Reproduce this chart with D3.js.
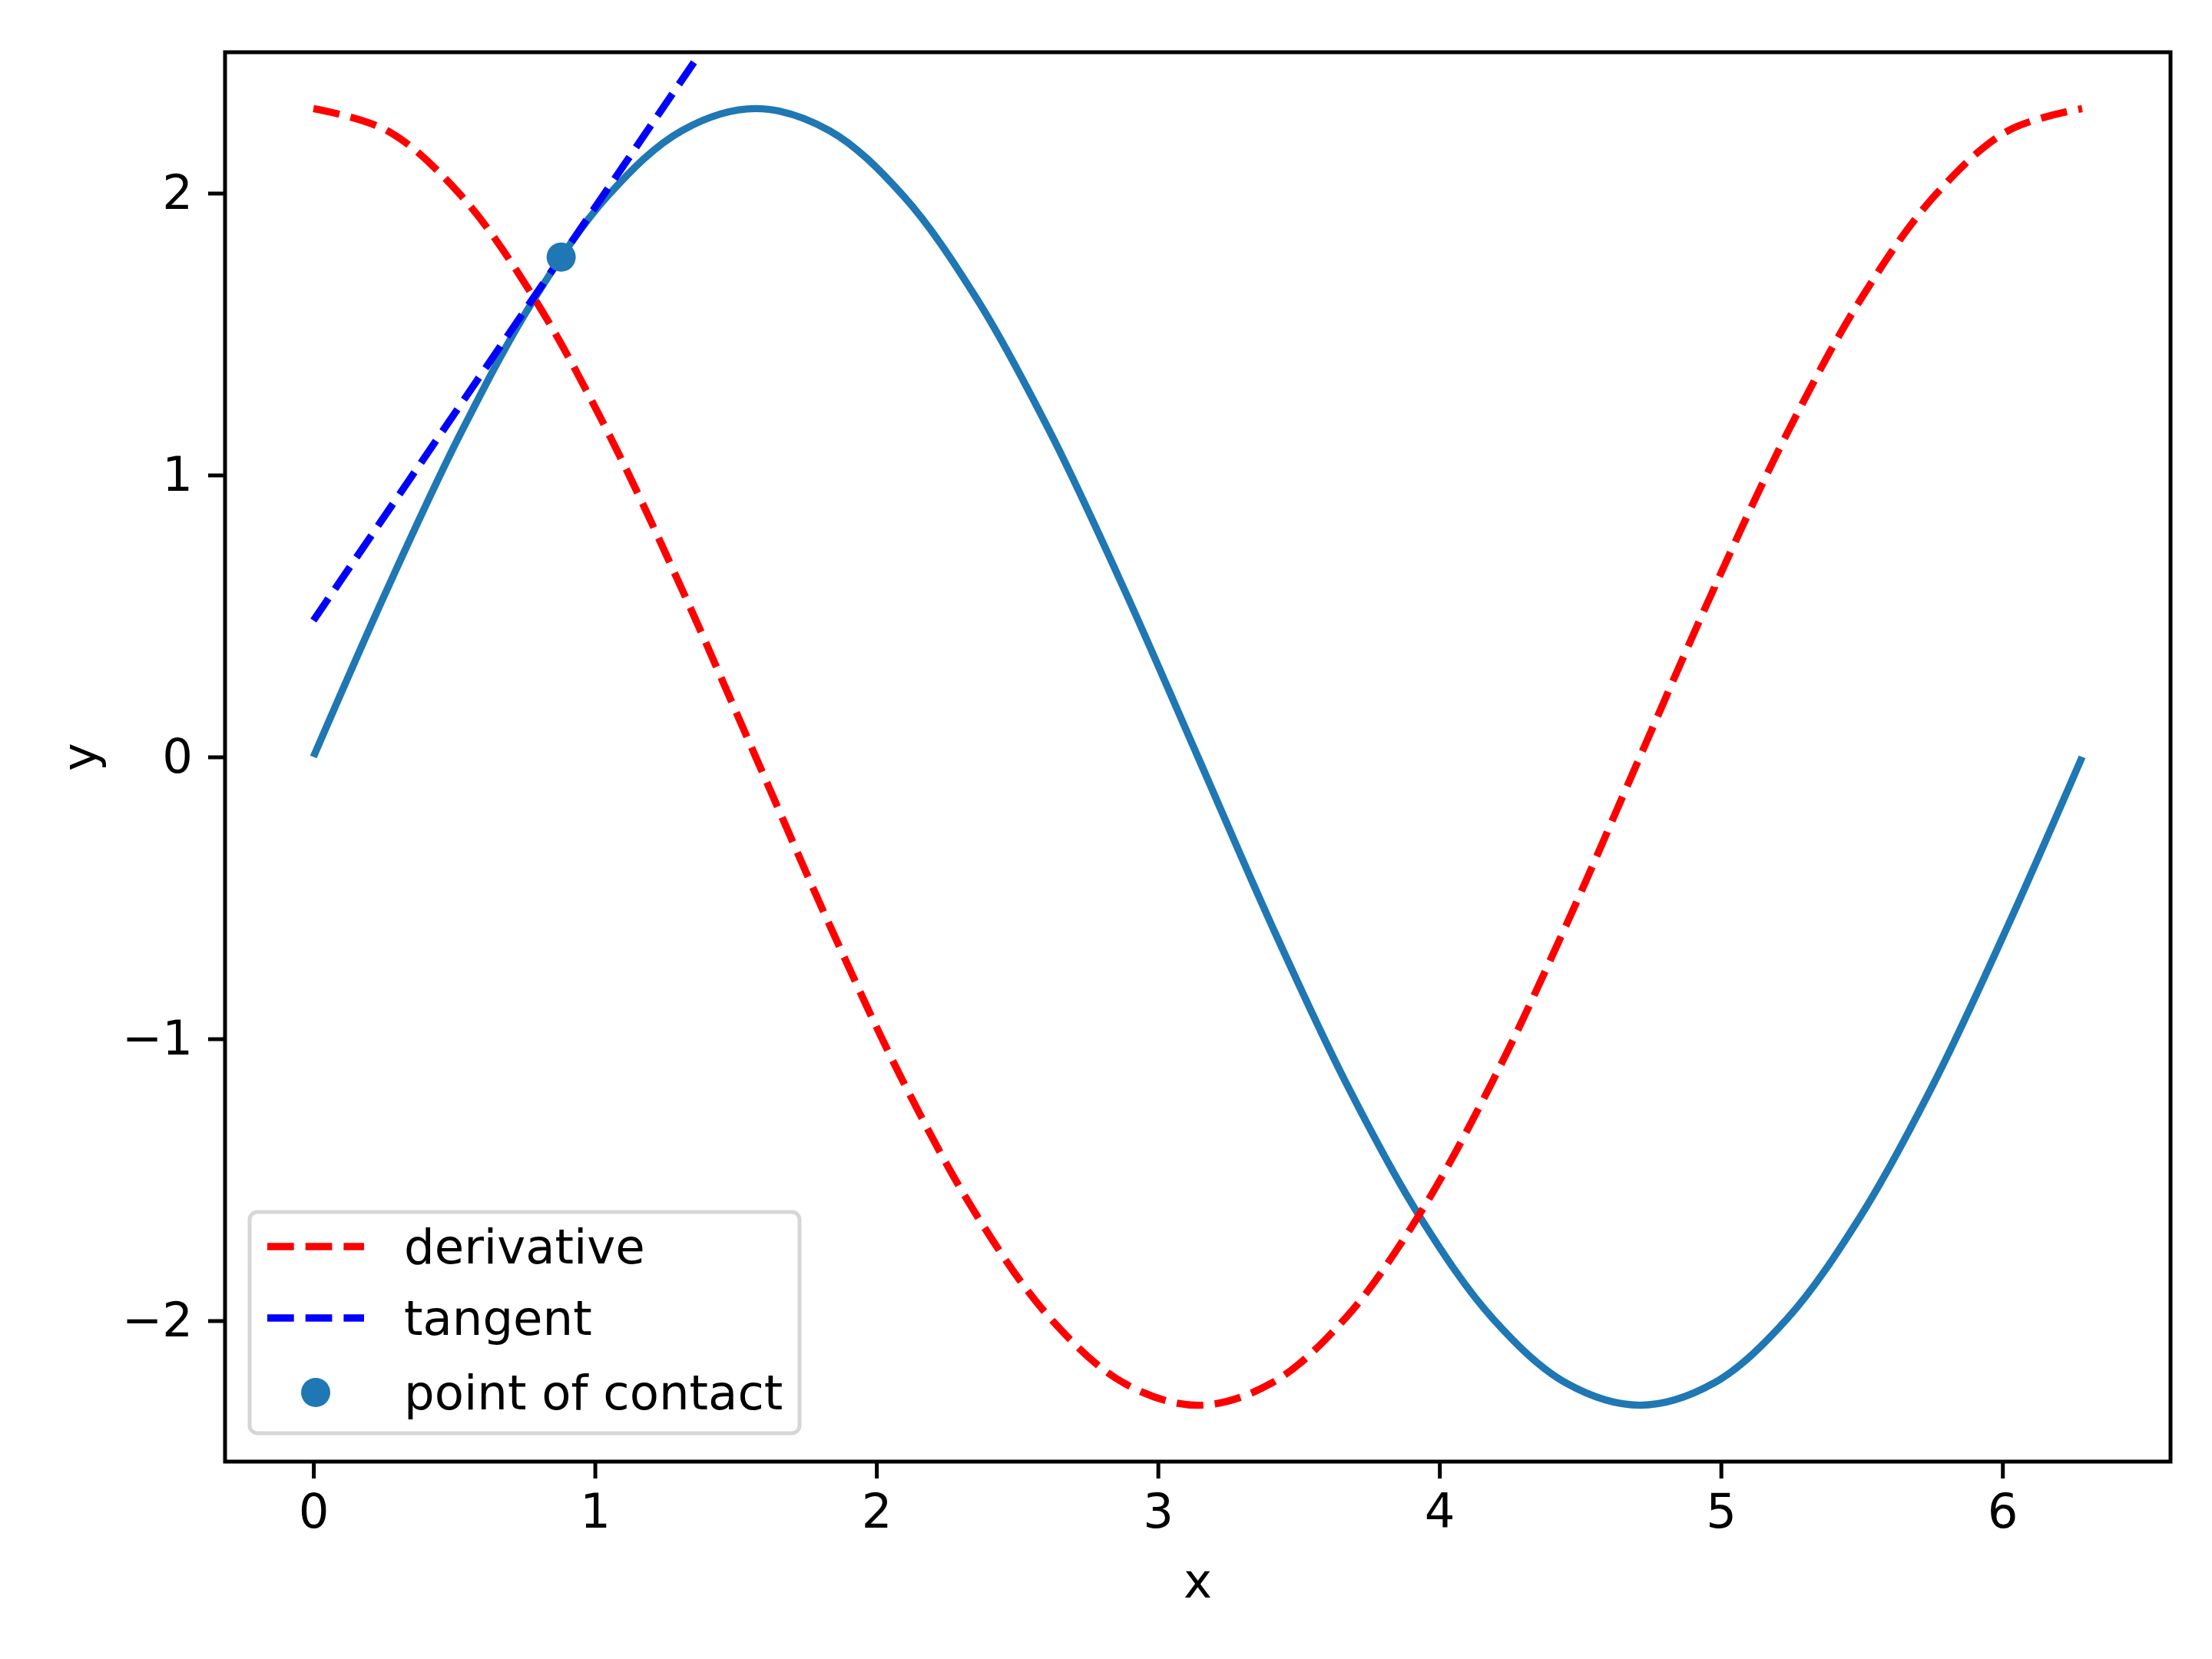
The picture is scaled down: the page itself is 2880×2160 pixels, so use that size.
<!DOCTYPE html>
<html><head><meta charset="utf-8">
<script src="https://cdn.jsdelivr.net/npm/d3@7"></script>
<style>body{margin:0;background:#fff}text{font-family:"DejaVu Sans",sans-serif}</style>
</head><body>
<svg id="c" width="2880" height="2160"></svg>
<script>
const xs = [0,0.262,0.524,0.785,1.047,1.309,1.571,1.833,2.094,2.356,2.618,2.880,3.142,3.403,3.665,3.927,4.189,4.451,4.712,4.974,5.236,5.498,5.760,6.021,6.283];
const fVals = [0,0.595,1.15,1.626,1.992,2.222,2.3,2.222,1.992,1.626,1.15,0.595,0,-0.595,-1.15,-1.626,-1.992,-2.222,-2.3,-2.222,-1.992,-1.626,-1.15,-0.595,0];
const dVals = [2.3,2.222,1.992,1.626,1.15,0.595,0,-0.595,-1.15,-1.626,-1.992,-2.222,-2.3,-2.222,-1.992,-1.626,-1.15,-0.595,0,0.595,1.15,1.626,1.992,2.222,2.3];
const tangentX = [0,1.37];
const tangentY = [0.484,2.491];
const contact = [0.88,1.773];
const xTicks = [0,1,2,3,4,5,6];
const yTicks = [-2,-1,0,1,2];
const legendLabels = ["derivative","tangent","point of contact"];

const svg = d3.select("#c");
const L=293,R=2826,T=68,B=1903;
const x = d3.scaleLinear().domain([-0.314,6.597]).range([L,R]);
const y = d3.scaleLinear().domain([-2.5,2.5]).range([B,T]);
svg.append("defs").append("clipPath").attr("id","clip").append("rect")
  .attr("x",L).attr("y",T).attr("width",R-L).attr("height",B-T);
const g = svg.append("g").attr("clip-path","url(#clip)");
const line = d3.line().x(d=>x(d[0])).y(d=>y(d[1])).curve(d3.curveCatmullRom.alpha(0.5));
const lw=9.4, dash="34.7,15";
g.append("path").attr("d",line(xs.map((v,i)=>[v,fVals[i]]))).attr("fill","none").attr("stroke","#1f77b4").attr("stroke-width",lw);
g.append("path").attr("d",line(xs.map((v,i)=>[v,dVals[i]]))).attr("fill","none").attr("stroke","red").attr("stroke-width",lw).attr("stroke-dasharray",dash);
g.append("path").attr("d",d3.line().x(d=>x(d[0])).y(d=>y(d[1]))(tangentX.map((v,i)=>[v,tangentY[i]]))).attr("fill","none").attr("stroke","blue").attr("stroke-width",lw).attr("stroke-dasharray",dash);
g.append("circle").attr("cx",x(contact[0])).attr("cy",y(contact[1])).attr("r",19).attr("fill","#1f77b4");

const fs=62.5;
const xa = svg.append("g").attr("transform",`translate(0,${B})`).call(d3.axisBottom(x).tickValues(xTicks).tickSize(22).tickPadding(20).tickFormat(d3.format("d")));
const ya = svg.append("g").attr("transform",`translate(${L},0)`).call(d3.axisLeft(y).tickValues(yTicks).tickSize(22).tickPadding(20).tickFormat(d=>d<0?"\u2212"+(-d):d));
[xa,ya].forEach(a=>{a.selectAll("text").attr("font-size",fs).attr("font-family","DejaVu Sans").attr("fill","#000");
 a.selectAll("line").attr("stroke-width",5);a.select(".domain").remove();});
svg.append("rect").attr("x",L).attr("y",T).attr("width",R-L).attr("height",B-T).attr("fill","none").attr("stroke","#000").attr("stroke-width",5);
svg.append("text").attr("x",(L+R)/2).attr("y",2080).attr("text-anchor","middle").attr("font-size",fs).text("x");
svg.append("text").attr("transform",`translate(125,${(T+B)/2}) rotate(-90)`).attr("text-anchor","middle").attr("font-size",fs).text("y");

const lg = svg.append("g");
lg.append("rect").attr("x",325).attr("y",1578).attr("width",716).attr("height",288).attr("rx",10)
  .attr("fill","#fff").attr("fill-opacity",0.8).attr("stroke","#d6d6d6").attr("stroke-width",5);
const rows=[1623,1716,1813];
const colors=["red","blue"];
legendLabels.forEach((lab,i)=>{
  if(i<2) lg.append("line").attr("x1",348).attr("x2",474).attr("y1",rows[i]).attr("y2",rows[i]).attr("stroke",colors[i]).attr("stroke-width",lw).attr("stroke-dasharray",dash);
  else lg.append("circle").attr("cx",411).attr("cy",rows[i]).attr("r",19).attr("fill","#1f77b4");
  lg.append("text").attr("x",526).attr("y",rows[i]).attr("dy","0.35em").attr("font-size",fs).text(lab);
});
</script>
</body></html>
